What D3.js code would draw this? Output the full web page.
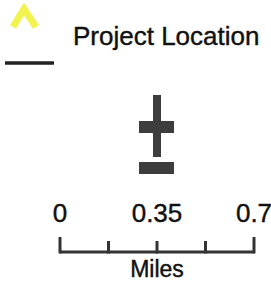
<!DOCTYPE html>
<html>
<head>
<meta charset="utf-8">
<script src="https://cdn.jsdelivr.net/npm/d3@7"></script>
<style>
  body { margin: 0; background: #fff; }
  text { font-family: "Liberation Sans", Arial, sans-serif; fill: #111; stroke: #111; stroke-width: 0.4px; }
</style>
</head>
<body>
<div id="main"></div>
<script>
// legend entries
const legendLabels = ["Project Location", ""];
const legendSymbols = ["chevron", "line"];

// scale bar
const scaleTicks = [0, 0.175, 0.35, 0.525, 0.7];
const scaleLabels = [0, 0.35, 0.7];
const scaleUnit = "Miles";

const svg = d3.select("#main")
  .append("svg")
  .attr("width", 271)
  .attr("height", 285);

// legend
const legendY = d3.scalePoint().domain(legendLabels.map((d, i) => i)).range([18, 63]);

legendSymbols.forEach((s, i) => {
  const y = legendY(i);
  if (s === "chevron") {
    svg.append("path")
      .attr("d", `M13,${y + 9} L24,${y - 9} L36,${y + 9}`)
      .attr("fill", "none")
      .attr("stroke", "#f2f23c")
      .attr("stroke-width", 7)
      .attr("stroke-linejoin", "miter")
      .attr("opacity", 0.9);
  } else {
    svg.append("line")
      .attr("x1", 5).attr("x2", 54)
      .attr("y1", y).attr("y2", y)
      .attr("stroke", "#222")
      .attr("stroke-width", 3.5);
  }
  if (legendLabels[i]) {
    svg.append("text")
      .attr("x", 73)
      .attr("y", y + 27)
      .attr("font-size", 26)
      .text(legendLabels[i]);
  }
});

// north arrow
const na = svg.append("g").attr("fill", "#3d3d3d");
na.append("rect").attr("x", 153).attr("y", 95).attr("width", 8).attr("height", 62);
na.append("rect").attr("x", 139).attr("y", 121).attr("width", 35).attr("height", 12);
na.append("rect").attr("x", 139).attr("y", 162).attr("width", 35).attr("height", 12);

// scale bar
const x = d3.scaleLinear().domain([0, 0.7]).range([60, 254]);
const barY = 252;

svg.append("line")
  .attr("x1", x(0)).attr("x2", x(0.7))
  .attr("y1", barY).attr("y2", barY)
  .attr("stroke", "#333").attr("stroke-width", 3);

svg.selectAll(".tick")
  .data(scaleTicks)
  .join("line")
  .attr("class", "tick")
  .attr("x1", d => x(d)).attr("x2", d => x(d))
  .attr("y1", (d, i) => (i === 0 || i === scaleTicks.length - 1) ? 237 : 241)
  .attr("y2", barY + 1.5)
  .attr("stroke", "#333").attr("stroke-width", 3);

svg.selectAll(".lbl")
  .data(scaleLabels)
  .join("text")
  .attr("class", "lbl")
  .attr("x", d => x(d))
  .attr("y", 222)
  .attr("text-anchor", "middle")
  .attr("font-size", 26)
  .text(d => d);

svg.append("text")
  .attr("x", x(0.35))
  .attr("y", 277)
  .attr("text-anchor", "middle")
  .attr("font-size", 23)
  .text(scaleUnit);
</script>
</body>
</html>
